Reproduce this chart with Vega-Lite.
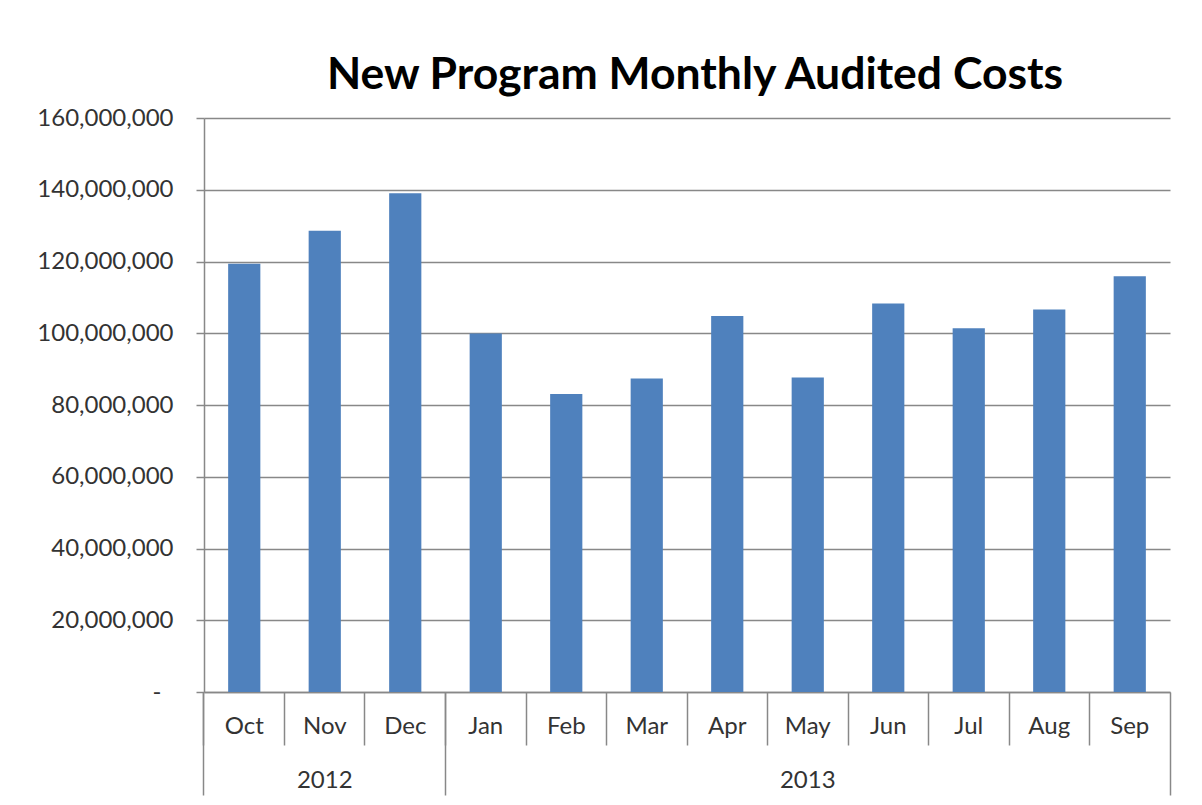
{
  "$schema": "https://vega.github.io/schema/vega-lite/v6.json",
  "autosize": "none",
  "width": 966,
  "height": 574,
  "padding": {"left": 204, "top": 118, "right": 32, "bottom": 113},
  "background": "white",
  "title": {
    "text": "New Program Monthly Audited Costs",
    "font": "Lato",
    "fontSize": 44.5,
    "fontWeight": "bold",
    "color": "#000000",
    "anchor": "middle",
    "frame": "group",
    "offset": 8,
    "dx": 8
  },
  "data": {
    "values": [
      {"month": "Oct", "cost": 119400000},
      {"month": "Nov", "cost": 128600000},
      {"month": "Dec", "cost": 139000000},
      {"month": "Jan", "cost": 99900000},
      {"month": "Feb", "cost": 83100000},
      {"month": "Mar", "cost": 87400000},
      {"month": "Apr", "cost": 104800000},
      {"month": "May", "cost": 87700000},
      {"month": "Jun", "cost": 108300000},
      {"month": "Jul", "cost": 101400000},
      {"month": "Aug", "cost": 106600000},
      {"month": "Sep", "cost": 115900000}
    ]
  },
  "config": {
    "view": {"stroke": null},
    "axis": {
      "labelFont": "Lato",
      "labelFontSize": 24,
      "labelColor": "#333333",
      "domainColor": "#888888",
      "tickColor": "#888888",
      "gridColor": "#888888",
      "domainWidth": 1.5,
      "tickWidth": 1.5,
      "gridWidth": 1.5
    }
  },
  "resolve": {"axis": {"x": "independent"}},
  "layer": [
    {
      "mark": {"type": "bar", "color": "#4F81BD"},
      "encoding": {
        "x": {
          "field": "month",
          "type": "nominal",
          "sort": ["Oct", "Nov", "Dec", "Jan", "Feb", "Mar", "Apr", "May", "Jun", "Jul", "Aug", "Sep"],
          "scale": {"paddingInner": 0.6, "paddingOuter": 0.3},
          "axis": {
            "orient": "bottom",
            "title": null,
            "labelAngle": 0,
            "ticks": false,
            "labelPadding": 22,
            "grid": false
          }
        },
        "y": {
          "field": "cost",
          "type": "quantitative",
          "scale": {"domain": [0, 160000000], "nice": false},
          "axis": {
            "title": null,
            "values": [0, 20000000, 40000000, 60000000, 80000000, 100000000, 120000000, 140000000, 160000000],
            "tickSize": 8,
            "labelPadding": {"condition": {"test": "datum.value == 0", "value": 35}, "value": 23},
            "grid": true,
            "labelExpr": "datum.value == 0 ? '-' : format(datum.value, ',')"
          }
        }
      }
    },
    {
      "mark": {"type": "bar", "opacity": 0},
      "encoding": {
        "x": {
          "field": "month",
          "type": "nominal",
          "sort": ["Oct", "Nov", "Dec", "Jan", "Feb", "Mar", "Apr", "May", "Jun", "Jul", "Aug", "Sep"],
          "axis": {
            "orient": "bottom",
            "title": null,
            "bandPosition": -0.75,
            "tickSize": 53,
            "labels": false,
            "domain": false,
            "grid": false
          }
        }
      }
    },
    {
      "mark": {"type": "bar", "opacity": 0},
      "encoding": {
        "x": {
          "field": "month",
          "type": "nominal",
          "sort": ["Oct", "Nov", "Dec", "Jan", "Feb", "Mar", "Apr", "May", "Jun", "Jul", "Aug", "Sep"],
          "axis": {
            "orient": "bottom",
            "title": null,
            "values": ["Oct", "Jan"],
            "bandPosition": -0.75,
            "tickSize": 103,
            "labels": false,
            "domain": false,
            "grid": false
          }
        }
      }
    },
    {
      "mark": {"type": "bar", "opacity": 0},
      "encoding": {
        "x": {
          "field": "month",
          "type": "nominal",
          "sort": ["Oct", "Nov", "Dec", "Jan", "Feb", "Mar", "Apr", "May", "Jun", "Jul", "Aug", "Sep"],
          "axis": {
            "orient": "bottom",
            "title": null,
            "values": ["Sep"],
            "bandPosition": 1.75,
            "tickSize": 103,
            "labels": false,
            "domain": false,
            "grid": false
          }
        }
      }
    },
    {
      "mark": {"type": "bar", "opacity": 0},
      "encoding": {
        "x": {
          "field": "month",
          "type": "nominal",
          "sort": ["Oct", "Nov", "Dec", "Jan", "Feb", "Mar", "Apr", "May", "Jun", "Jul", "Aug", "Sep"],
          "axis": {
            "orient": "bottom",
            "title": null,
            "values": ["Nov", "May"],
            "ticks": false,
            "domain": false,
            "grid": false,
            "labelAngle": 0,
            "labelPadding": 76,
            "labelExpr": "datum.value == 'Nov' ? '2012' : '2013'"
          }
        }
      }
    }
  ]
}
